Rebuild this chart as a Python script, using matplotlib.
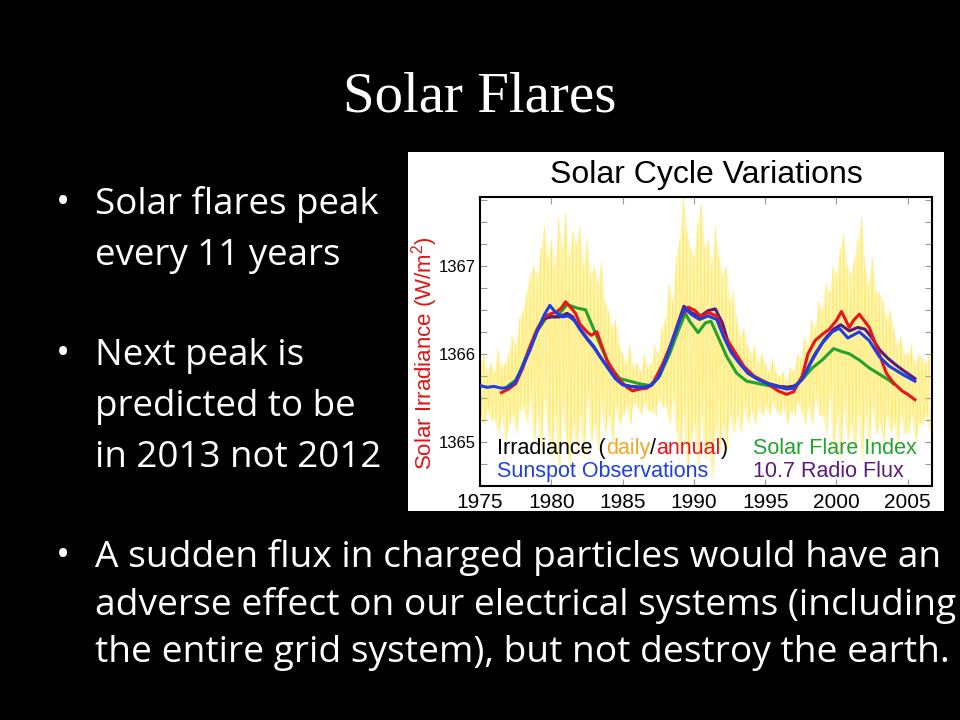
import matplotlib
matplotlib.use("Agg")
import matplotlib.pyplot as plt
from matplotlib import font_manager
from matplotlib.patches import Rectangle
from matplotlib.ticker import MultipleLocator
import numpy as np

installed = {f.name for f in font_manager.fontManager.ttflist}
slide_font = "Open Sans" if "Open Sans" in installed else "DejaVu Sans"
chart_font = "Liberation Sans" if "Liberation Sans" in installed else "DejaVu Sans"
title_font = "Liberation Serif" if "Liberation Serif" in installed else "DejaVu Serif"

plt.rcParams["mathtext.fontset"] = "custom"
plt.rcParams["mathtext.rm"] = chart_font

# daily irradiance, quarter-year highs and lows
daily_hi = [
    1365.85, 1366.0, 1365.8, 1365.9,
    1365.8, 1366.05, 1365.85, 1365.9,
    1366.0, 1366.2, 1366.1, 1366.4,
    1366.5, 1366.7, 1366.9, 1367.0,
    1366.9, 1367.2, 1367.45, 1367.1,
    1367.3, 1367.0, 1367.55, 1367.2,
    1367.6, 1367.1, 1367.4, 1367.25,
    1367.45, 1367.0, 1367.3, 1366.9,
    1367.0, 1366.8, 1367.05, 1366.6,
    1366.5, 1366.3, 1366.4, 1366.1,
    1366.0, 1365.9, 1366.1, 1365.85,
    1365.9, 1365.8, 1366.0, 1365.85,
    1365.9, 1366.1, 1366.0, 1366.3,
    1366.4, 1366.8, 1366.6, 1367.1,
    1367.3, 1367.8, 1367.4, 1367.2,
    1367.1, 1367.5, 1367.7, 1367.2,
    1367.3, 1367.0, 1367.45, 1367.1,
    1366.9, 1367.0, 1366.6, 1366.7,
    1366.4, 1366.2, 1366.3, 1366.1,
    1366.0, 1366.1, 1365.9, 1366.0,
    1365.9, 1365.8, 1365.95, 1365.8,
    1365.75, 1365.8, 1365.7, 1365.85,
    1365.8, 1366.0, 1365.95, 1366.2,
    1366.1, 1366.4, 1366.3, 1366.6,
    1366.5, 1366.8, 1366.7, 1367.0,
    1366.9, 1367.2, 1367.35, 1367.0,
    1366.9, 1367.1, 1367.3, 1367.55,
    1367.0, 1366.8, 1367.1, 1366.7,
    1366.7, 1366.6, 1366.4, 1366.5,
    1366.3, 1366.1, 1366.2, 1366.0,
    1366.0, 1366.1, 1365.9, 1366.0,
    1365.95, 1365.9, 1366.0,
]
daily_lo = [
    1365.3, 1365.2, 1365.35, 1365.25,
    1365.25, 1365.1, 1365.3, 1365.0,
    1365.2, 1365.3, 1365.1, 1365.35,
    1365.4, 1365.2, 1365.5, 1365.0,
    1365.3, 1364.9, 1365.5, 1365.1,
    1364.8, 1365.3, 1364.6, 1365.4,
    1365.0, 1364.7, 1365.2, 1364.9,
    1365.3, 1364.8, 1365.5, 1365.0,
    1365.2, 1364.9, 1365.4, 1365.1,
    1365.3, 1365.0, 1365.4, 1365.2,
    1365.3, 1365.4, 1365.2, 1365.45,
    1365.4, 1365.3, 1365.45, 1365.35,
    1365.35, 1365.3, 1365.5, 1365.4,
    1365.4, 1365.2, 1365.5, 1365.1,
    1364.9, 1365.3, 1364.6, 1365.0,
    1365.2, 1364.7, 1365.3, 1364.8,
    1365.0, 1364.6, 1365.2, 1364.9,
    1365.2, 1364.9, 1365.3, 1365.1,
    1365.3, 1365.1, 1365.4, 1365.2,
    1365.35, 1365.2, 1365.4, 1365.3,
    1365.4, 1365.3, 1365.45, 1365.35,
    1365.3, 1365.4, 1365.2, 1365.35,
    1365.3, 1365.45, 1365.35, 1365.2,
    1365.4, 1365.2, 1365.5, 1365.3,
    1365.3, 1365.1, 1365.5, 1364.9,
    1365.3, 1364.8, 1365.4, 1365.0,
    1365.2, 1364.9, 1365.3, 1364.8,
    1365.3, 1365.0, 1365.4, 1365.1,
    1365.2, 1365.0, 1365.3, 1365.1,
    1365.2, 1365.0, 1365.3, 1365.1,
    1365.1, 1365.3, 1365.0, 1365.2,
    1365.2, 1365.3, 1365.1,
]

annual_yr = [1976.5, 1977.0, 1977.5, 1978.0, 1978.5, 1979.0, 1979.5, 1979.9, 1980.4, 1980.7,
             1981.0, 1981.4, 1981.7, 1982.0, 1982.5, 1982.8, 1983.2, 1983.5, 1983.9, 1984.6,
             1985.3, 1985.7, 1986.2, 1986.7, 1987.1, 1987.8, 1988.5, 1989.1, 1989.6, 1990.1,
             1990.5, 1991.0, 1991.6, 1992.1, 1992.8, 1993.5, 1994.2, 1995.1, 1995.9, 1996.5,
             1997.0, 1997.6, 1998.0, 1998.5, 1999.0, 1999.5, 2000.0, 2000.35, 2000.9, 2001.2,
             2001.6, 2002.3, 2003.0, 2003.5, 2004.0, 2004.6, 2005.0, 2005.5]
annual_v = [1365.56, 1365.60, 1365.66, 1365.84, 1366.08, 1366.28, 1366.42, 1366.45, 1366.48, 1366.52,
            1366.59, 1366.52, 1366.46, 1366.34, 1366.25, 1366.21, 1366.25, 1366.11, 1365.93, 1365.74,
            1365.62, 1365.58, 1365.60, 1365.61, 1365.66, 1365.88, 1366.15, 1366.42, 1366.53, 1366.49,
            1366.42, 1366.47, 1366.43, 1366.22, 1366.04, 1365.86, 1365.75, 1365.67, 1365.58, 1365.54,
            1365.57, 1365.75, 1366.00, 1366.15, 1366.22, 1366.28, 1366.38, 1366.48, 1366.30, 1366.38,
            1366.45, 1366.30, 1366.00, 1365.78, 1365.67, 1365.58, 1365.54, 1365.48]

sunspot_yr = [1975.0, 1975.5, 1976.0, 1976.5, 1977.0, 1977.5, 1978.0, 1978.5, 1979.0, 1979.5,
              1979.9, 1980.3, 1980.8, 1981.2, 1981.6, 1982.0, 1982.5, 1983.0, 1983.5, 1984.0,
              1984.5, 1985.0, 1985.5, 1986.0, 1986.5, 1987.0, 1987.5, 1988.0, 1988.5, 1989.0,
              1989.35, 1989.8, 1990.4, 1991.0, 1991.6, 1992.1, 1992.6, 1993.2, 1993.8, 1994.5,
              1995.2, 1995.8, 1996.5, 1997.0, 1997.6, 1998.3, 1999.0, 1999.7, 2000.2, 2000.8,
              2001.6, 2002.3, 2003.0, 2003.7, 2004.6, 2005.5]
sunspot_v = [1365.64, 1365.62, 1365.63, 1365.61, 1365.62, 1365.68, 1365.86, 1366.04, 1366.25, 1366.44,
             1366.55, 1366.47, 1366.42, 1366.43, 1366.38, 1366.29, 1366.18, 1366.08, 1365.95, 1365.83,
             1365.72, 1365.65, 1365.63, 1365.62, 1365.62, 1365.64, 1365.73, 1365.92, 1366.15, 1366.38,
             1366.52, 1366.45, 1366.39, 1366.43, 1366.39, 1366.19, 1366.02, 1365.89, 1365.78, 1365.71,
             1365.66, 1365.63, 1365.60, 1365.61, 1365.71, 1365.93, 1366.12, 1366.25, 1366.29, 1366.18,
             1366.25, 1366.15, 1365.97, 1365.86, 1365.77, 1365.69]

flare_yr = [1977.0, 1977.5, 1977.8, 1978.4, 1979.0, 1979.7, 1980.4, 1981.1, 1981.8, 1982.4,
            1983.0, 1983.5, 1984.1, 1984.8, 1985.5, 1986.2, 1986.9, 1987.6, 1988.3, 1988.9,
            1989.4, 1989.7, 1990.3, 1990.8, 1991.2, 1991.7, 1992.3, 1993.0, 1993.7, 1994.6,
            1995.5, 1996.5, 1997.0, 1997.6, 1998.3, 1999.0, 1999.8, 2000.3, 2000.9, 2001.6,
            2002.3, 2003.0, 2003.7, 2004.0]
flare_v = [1365.64, 1365.70, 1365.79, 1366.04, 1366.26, 1366.42, 1366.42, 1366.56, 1366.52, 1366.50,
           1366.27, 1366.08, 1365.86, 1365.72, 1365.69, 1365.66, 1365.64, 1365.75, 1366.00, 1366.26,
           1366.46, 1366.37, 1366.24, 1366.35, 1366.37, 1366.19, 1365.97, 1365.78, 1365.69, 1365.66,
           1365.63, 1365.62, 1365.63, 1365.71, 1365.84, 1365.93, 1366.06, 1366.03, 1366.00, 1365.93,
           1365.84, 1365.77, 1365.70, 1365.66]

radio_yr = [1977.0, 1977.5, 1978.0, 1978.5, 1979.0, 1979.5, 1980.0, 1980.6, 1981.1, 1981.5,
            1982.0, 1982.5, 1983.0, 1983.5, 1984.0, 1984.5, 1985.0, 1985.6, 1986.5, 1987.0,
            1987.5, 1988.0, 1988.5, 1989.0, 1989.3, 1989.8, 1990.4, 1991.0, 1991.5, 1992.0,
            1992.5, 1993.2, 1993.8, 1994.5, 1995.3, 1996.0, 1996.6, 1997.2, 1997.8, 1998.5,
            1999.2, 1999.8, 2000.3, 2000.9, 2001.5, 2002.0, 2002.5, 2003.0, 2003.6, 2004.2,
            2004.7, 2005.5]
radio_v = [1365.62, 1365.68, 1365.86, 1366.06, 1366.26, 1366.40, 1366.42, 1366.42, 1366.46, 1366.42,
           1366.28, 1366.17, 1366.07, 1365.95, 1365.84, 1365.72, 1365.65, 1365.63, 1365.62, 1365.64,
           1365.73, 1365.93, 1366.16, 1366.40, 1366.54, 1366.47, 1366.42, 1366.49, 1366.51, 1366.35,
           1366.08, 1365.90, 1365.78, 1365.71, 1365.66, 1365.63, 1365.62, 1365.64, 1365.78, 1366.00,
           1366.17, 1366.28, 1366.33, 1366.26, 1366.30, 1366.28, 1366.18, 1366.05, 1365.95, 1365.87,
           1365.81, 1365.72]

x_ticks = [1975, 1980, 1985, 1990, 1995, 2000, 2005]
y_ticks = [1365, 1366, 1367]

upper_lines = ["Solar flares peak", "every 11 years", "Next peak is", "predicted to be", "in 2013 not 2012"]
lower_lines = ["A sudden flux in charged particles would have an",
               "adverse effect on our electrical systems (including",
               "the entire grid system), but not destroy the earth."]

W, H = 960, 720
fig = plt.figure(figsize=(9.6, 7.2), dpi=100, facecolor="black")

# white picture box behind the chart
fig.patches.append(Rectangle((408 / W, 1 - 511 / H), 536 / W, 359 / H,
                             transform=fig.transFigure, facecolor="white",
                             edgecolor="none", zorder=-5))

ax = fig.add_axes([480 / W, 1 - 486 / H, 452 / W, 289 / H])
ax.set_zorder(2)
ax.set_facecolor("white")

# daily irradiance: pale haze plus thin spiky trace
q = 1975 + 0.25 * np.arange(len(daily_hi))
ax.fill_between(q, daily_lo, daily_hi, color="#FFEE80", alpha=0.55, lw=0, zorder=1)
spike_x = np.ravel(np.column_stack([q, q + 0.125]))
spike_v = np.ravel(np.column_stack([daily_hi, daily_lo]))
ax.plot(spike_x, spike_v, color="#FFE11A", lw=0.5, alpha=0.55, zorder=2)

ax.plot(flare_yr, flare_v, color="#22A32B", lw=2.2, zorder=3)
ax.plot(radio_yr, radio_v, color="#5A1C7C", lw=2.2, zorder=4)
ax.plot(annual_yr, annual_v, color="#E8151B", lw=2.2, zorder=5)
ax.plot(sunspot_yr, sunspot_v, color="#1E3FE6", lw=2.2, zorder=6)

ax.set_xlim(1975, 2006.7)
ax.set_ylim(1364.5, 1367.78)
ax.set_xticks(x_ticks)
ax.set_yticks(y_ticks)
ax.yaxis.set_minor_locator(MultipleLocator(0.25))
ax.tick_params(which="both", direction="in", top=True, right=True, color="#999999", width=0.8)
ax.tick_params(which="major", length=5)
ax.tick_params(which="minor", length=5)
ax.tick_params(axis="x", labelsize=15, pad=5)
ax.tick_params(axis="y", labelsize=12, pad=3)
for lab in ax.get_xticklabels() + ax.get_yticklabels():
    lab.set_fontfamily(chart_font)
for s in ax.spines.values():
    s.set_linewidth(1.5)
    s.set_color("black")

fig.text((480 + 932) / 2 / W, 1 - 175 / H, "Solar Cycle Variations", ha="center", va="center",
         fontsize=23, family=chart_font, color="black")
fig.text(425 / W, 1 - 353 / H, "Solar Irradiance (W/m$^{2}$)", rotation=90, ha="center",
         va="center", fontsize=16, family=chart_font, color="#E01515")


def colored_line(x, y, parts):
    prev = ax.text(x, y, parts[0][0], color=parts[0][1], transform=ax.transAxes,
                   fontsize=15.5, family=chart_font, va="center", ha="left", zorder=8)
    for txt, col in parts[1:]:
        prev = ax.annotate(txt, xy=(1, 0), xycoords=prev, va="bottom", ha="left",
                           color=col, fontsize=15.5, family=chart_font, zorder=8)


colored_line(0.038, 0.13, [("Irradiance (", "black"), ("daily", "#F6A623"), ("/", "black"),
                           ("annual", "#E8151B"), (")", "black")])
colored_line(0.038, 0.05, [("Sunspot Observations", "#1E3FE6")])
colored_line(0.605, 0.13, [("Solar Flare Index", "#22A32B")])
colored_line(0.605, 0.05, [("10.7 Radio Flux", "#5A1C7C")])

# slide text
fig.text(480 / W, 1 - 112 / H, "Solar Flares", ha="center", va="baseline",
         fontsize=41, family=title_font, color="white")

upper_base = [214, 265, 365, 416, 467]
for txt, yb in zip(upper_lines, upper_base):
    fig.text(95 / W, 1 - yb / H, txt, ha="left", va="baseline", fontsize=26.5,
             family=slide_font, color="white")
lower_base = [567, 615, 662]
for txt, yb in zip(lower_lines, lower_base):
    fig.text(95 / W, 1 - yb / H, txt, ha="left", va="baseline", fontsize=26.7,
             family=slide_font, color="white")
for yb in [upper_base[0], upper_base[2], lower_base[0]]:
    fig.text(56 / W, 1 - yb / H, "\u2022", ha="left", va="baseline", fontsize=27,
             family=slide_font, color="white")

fig.savefig("out.png", dpi=100, facecolor="black")
